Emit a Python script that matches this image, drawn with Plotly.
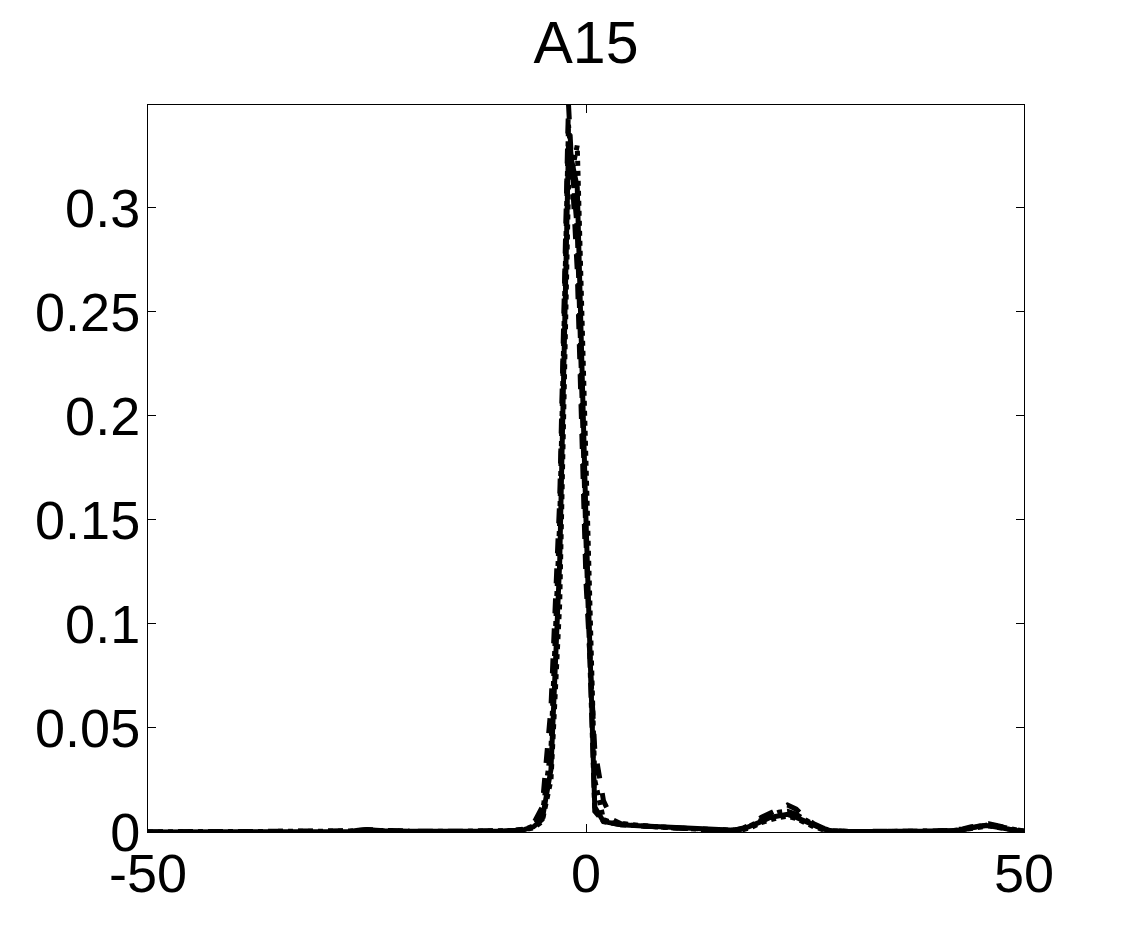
import plotly.graph_objects as go

# shared x grid (lag), dense around the main peak and the side bumps
x_vals = [-50, -30, -27, -26, -25, -24, -23, -20, -15, -10, -8, -7, -6, -5, -4, -3,
          -2, -1, 0, 1, 2, 3, 4, 6, 8, 10, 12, 15, 17, 18, 19, 20, 21, 22, 23, 24,
          25, 26, 27, 28, 30, 40, 42, 43, 44, 45, 46, 47, 48, 49, 50]

# solid line
y_solid = [0, 0, 0.0003, 0.0008, 0.0012, 0.0009, 0.0006, 0.0004, 0.0003, 0.0004, 0.0008, 0.0012,
           0.0025, 0.006, 0.03, 0.13, 0.33, 0.31, 0.15, 0.012, 0.005, 0.004, 0.0035, 0.003,
           0.0025, 0.002, 0.0015, 0.0008, 0.0008, 0.0015, 0.003, 0.005, 0.007, 0.008, 0.0085,
           0.007, 0.005, 0.003, 0.0015, 0.0006, 0.0002, 0.0002, 0.0006, 0.001, 0.002, 0.003,
           0.003, 0.0025, 0.0015, 0.0008, 0.0003]

# dashed line
y_dash = [0, 0, 0.0002, 0.0006, 0.001, 0.0008, 0.0005, 0.0003, 0.0002, 0.0003, 0.0008, 0.0015,
          0.004, 0.012, 0.06, 0.16, 0.35, 0.27, 0.12, 0.04, 0.015, 0.006, 0.004, 0.003,
          0.0025, 0.002, 0.0015, 0.0008, 0.001, 0.002, 0.004, 0.007, 0.009, 0.011, 0.013,
          0.011, 0.007, 0.004, 0.002, 0.0008, 0.0002, 0.0002, 0.0008, 0.0015, 0.0025, 0.0035,
          0.004, 0.003, 0.002, 0.001, 0.0004]

# dotted line
y_dot = [0, 0, 0.0002, 0.0005, 0.0009, 0.0007, 0.0004, 0.0003, 0.0002, 0.0003, 0.0007, 0.001,
         0.002, 0.005, 0.025, 0.11, 0.31, 0.33, 0.18, 0.025, 0.006, 0.0045, 0.004, 0.003,
         0.0025, 0.002, 0.0015, 0.0008, 0.0008, 0.0012, 0.0025, 0.0045, 0.006, 0.007, 0.0075,
         0.0065, 0.0045, 0.0025, 0.0012, 0.0005, 0.0002, 0.0002, 0.0005, 0.001, 0.0018, 0.0025,
         0.003, 0.0022, 0.0014, 0.0007, 0.0003]

# dash-dot line
y_dashdot = [0, 0, 0.0003, 0.0007, 0.0011, 0.0008, 0.0005, 0.0003, 0.0002, 0.0004, 0.0008, 0.0012,
             0.003, 0.008, 0.04, 0.15, 0.34, 0.29, 0.14, 0.01, 0.005, 0.004, 0.0035, 0.003,
             0.0025, 0.002, 0.0015, 0.0008, 0.0009, 0.0018, 0.0035, 0.006, 0.008, 0.0095, 0.01,
             0.0085, 0.006, 0.0035, 0.0018, 0.0007, 0.0002, 0.0002, 0.0007, 0.0012, 0.002, 0.003,
             0.0035, 0.0028, 0.0018, 0.0009, 0.0003]

series = [
    (y_solid, "solid"),
    (y_dash, "dash"),
    (y_dot, "dot"),
    (y_dashdot, "dashdot"),
]

fig = go.Figure()
for y_vals, style in series:
    fig.add_trace(
        go.Scatter(
            x=x_vals,
            y=y_vals,
            mode="lines",
            line=dict(color="black", width=5, dash=style),
            showlegend=False,
        )
    )

font_name = "Liberation Sans, Arial, Helvetica, sans-serif"
axis_style = dict(
    showline=True,
    linecolor="black",
    linewidth=1,
    mirror="ticks",
    ticks="inside",
    ticklen=8,
    tickcolor="black",
    showgrid=False,
    zeroline=False,
    tickfont=dict(family=font_name, size=54, color="black"),
)

fig.update_xaxes(
    range=[-50, 50],
    tickvals=[-50, 0, 50],
    ticktext=["-50", "0", "50"],
    ticklabelstandoff=-6,
    **axis_style
)
fig.update_yaxes(
    range=[0, 0.3495],
    tickvals=[0, 0.05, 0.1, 0.15, 0.2, 0.25, 0.3],
    ticktext=["0", "0.05", "0.1", "0.15", "0.2", "0.25", "0.3"],
    ticklabelstandoff=-4,
    **axis_style
)

# page body adds an 8px offset, so margins are shifted to compensate
fig.update_layout(
    width=1132,
    height=936,
    margin=dict(l=140, r=116, t=97, b=112),
    paper_bgcolor="white",
    plot_bgcolor="white",
    title=dict(
        text="A15",
        font=dict(family=font_name, size=59, color="black"),
        x=578 / 1132,
        xanchor="center",
        y=1 - 34 / 936,
        yanchor="middle",
    ),
)

fig.write_html("out.html")
